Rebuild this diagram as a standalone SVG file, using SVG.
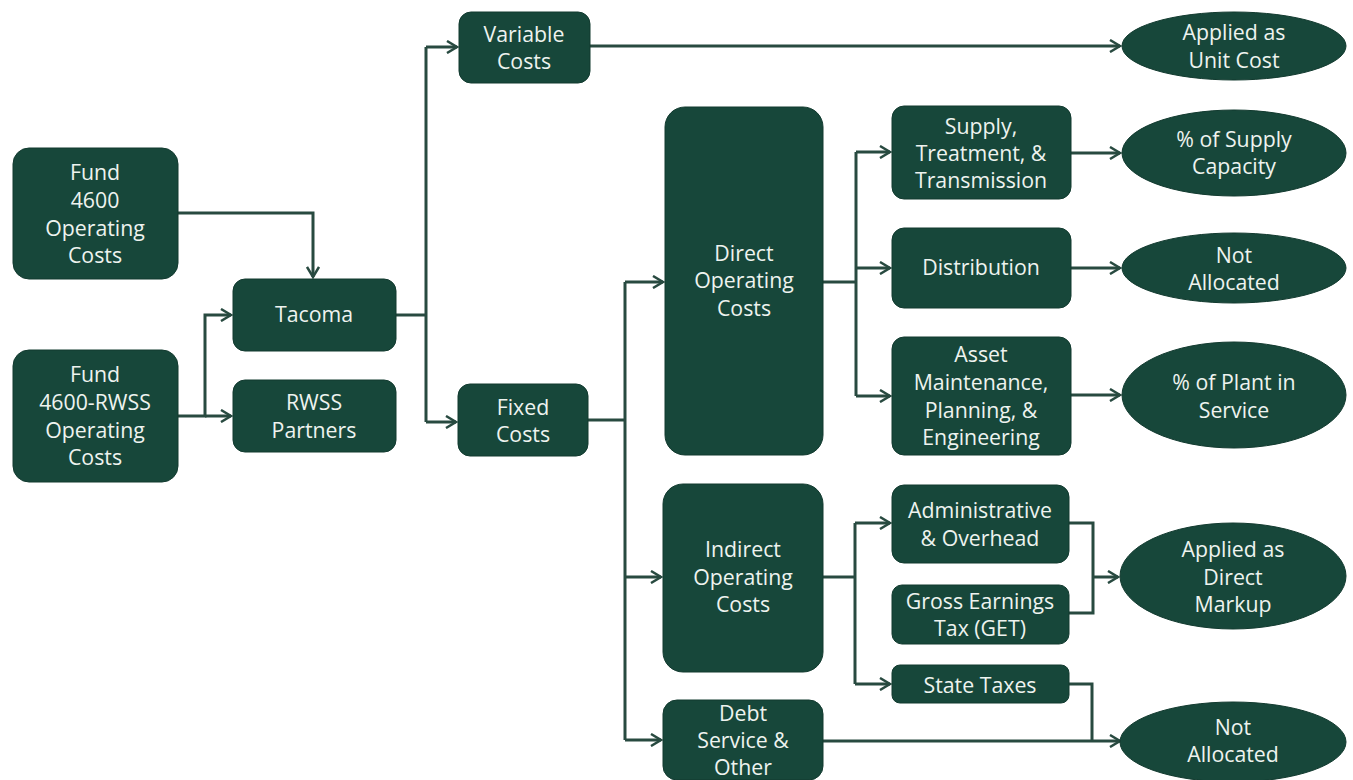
<svg xmlns="http://www.w3.org/2000/svg" width="1353" height="780" viewBox="0 0 1353 780">
<defs>
<style>
.n{fill:#17473a;stroke:#123a2f;stroke-width:1}
.t{font-family:"Open Sans","Noto Sans","Liberation Sans",sans-serif;font-size:21.3px;fill:#eef3ef;text-anchor:middle}
.c{fill:none;stroke:#284a40;stroke-width:3}
</style>
<marker id="ah" viewBox="0 0 14 14" refX="12" refY="7" markerWidth="14" markerHeight="14" markerUnits="userSpaceOnUse" orient="auto">
<path d="M2,1 L12,7 L2,13" fill="none" stroke="#284a40" stroke-width="2.5"/>
</marker>
</defs>
<rect width="1353" height="780" fill="#ffffff"/>
<g id="connectors">
<path class="c" d="M177,213 H313 V277" marker-end="url(#ah)"/>
<path class="c" d="M177,416 H205 V315 H231" marker-end="url(#ah)"/>
<path class="c" d="M205,416 H231" marker-end="url(#ah)"/>
<path class="c" d="M396,315 H426"/>
<path class="c" d="M426,47 V422"/>
<path class="c" d="M426,47 H457" marker-end="url(#ah)"/>
<path class="c" d="M426,422 H456" marker-end="url(#ah)"/>
<path class="c" d="M590,46 H1120" marker-end="url(#ah)"/>
<path class="c" d="M588,420 H625"/>
<path class="c" d="M625,282 V740"/>
<path class="c" d="M625,282 H663" marker-end="url(#ah)"/>
<path class="c" d="M625,577 H661" marker-end="url(#ah)"/>
<path class="c" d="M625,740 H661" marker-end="url(#ah)"/>
<path class="c" d="M823,282 H856"/>
<path class="c" d="M856,152 V396"/>
<path class="c" d="M856,152 H890" marker-end="url(#ah)"/>
<path class="c" d="M856,268 H890" marker-end="url(#ah)"/>
<path class="c" d="M856,396 H890" marker-end="url(#ah)"/>
<path class="c" d="M1071,153 H1120" marker-end="url(#ah)"/>
<path class="c" d="M1071,268 H1120" marker-end="url(#ah)"/>
<path class="c" d="M1071,395 H1120" marker-end="url(#ah)"/>
<path class="c" d="M823,577 H855"/>
<path class="c" d="M855,523 V684"/>
<path class="c" d="M855,523 H890" marker-end="url(#ah)"/>
<path class="c" d="M855,684 H890" marker-end="url(#ah)"/>
<path class="c" d="M1069,523 H1093 V613 H1069"/>
<path class="c" d="M1093,577 H1118" marker-end="url(#ah)"/>
<path class="c" d="M1069,684 H1092 V741"/>
<path class="c" d="M823,741 H1120" marker-end="url(#ah)"/>
</g>
<g id="fund4600">
<rect class="n" x="13" y="148" width="165" height="131" rx="16"/>
<text class="t" x="95" y="180">Fund</text>
<text class="t" x="95" y="208">4600</text>
<text class="t" x="95" y="236">Operating</text>
<text class="t" x="95" y="263">Costs</text>
</g>
<g id="fund4600rwss">
<rect class="n" x="13" y="350" width="165" height="132" rx="16"/>
<text class="t" x="95" y="382">Fund</text>
<text class="t" x="95" y="410">4600-RWSS</text>
<text class="t" x="95" y="438">Operating</text>
<text class="t" x="95" y="465">Costs</text>
</g>
<g id="tacoma">
<rect class="n" x="233" y="279" width="163" height="72" rx="12"/>
<text class="t" x="314" y="322">Tacoma</text>
</g>
<g id="rwsspartners">
<rect class="n" x="233" y="380" width="163" height="72" rx="12"/>
<text class="t" x="314" y="410">RWSS</text>
<text class="t" x="314" y="438">Partners</text>
</g>
<g id="variablecosts">
<rect class="n" x="459" y="12" width="131" height="71" rx="12"/>
<text class="t" x="524" y="42">Variable</text>
<text class="t" x="524" y="69">Costs</text>
</g>
<g id="fixedcosts">
<rect class="n" x="458" y="384" width="130" height="72" rx="12"/>
<text class="t" x="523" y="415">Fixed</text>
<text class="t" x="523" y="442">Costs</text>
</g>
<g id="directoperating">
<rect class="n" x="665" y="107" width="158" height="348" rx="20"/>
<text class="t" x="744" y="261">Direct</text>
<text class="t" x="744" y="288">Operating</text>
<text class="t" x="744" y="316">Costs</text>
</g>
<g id="indirectoperating">
<rect class="n" x="663" y="484" width="160" height="188" rx="20"/>
<text class="t" x="743" y="557">Indirect</text>
<text class="t" x="743" y="585">Operating</text>
<text class="t" x="743" y="612">Costs</text>
</g>
<g id="debtservice">
<rect class="n" x="663" y="700" width="160" height="80" rx="14"/>
<text class="t" x="743" y="721">Debt</text>
<text class="t" x="743" y="748">Service &amp;</text>
<text class="t" x="743" y="775">Other</text>
</g>
<g id="supply">
<rect class="n" x="892" y="106" width="179" height="93" rx="12"/>
<text class="t" x="981" y="134">Supply,</text>
<text class="t" x="981" y="161">Treatment, &amp;</text>
<text class="t" x="981" y="188">Transmission</text>
</g>
<g id="distribution">
<rect class="n" x="892" y="228" width="179" height="80" rx="12"/>
<text class="t" x="981" y="275">Distribution</text>
</g>
<g id="asset">
<rect class="n" x="892" y="337" width="179" height="118" rx="12"/>
<text class="t" x="981" y="362">Asset</text>
<text class="t" x="981" y="390">Maintenance,</text>
<text class="t" x="981" y="418">Planning, &amp;</text>
<text class="t" x="981" y="445">Engineering</text>
</g>
<g id="admin">
<rect class="n" x="892" y="485" width="177" height="78" rx="12"/>
<text class="t" x="980" y="518">Administrative</text>
<text class="t" x="980" y="546">&amp; Overhead</text>
</g>
<g id="get">
<rect class="n" x="892" y="585" width="177" height="59" rx="10"/>
<text class="t" x="980" y="609">Gross Earnings</text>
<text class="t" x="980" y="636">Tax (GET)</text>
</g>
<g id="statetaxes">
<rect class="n" x="892" y="665" width="177" height="38" rx="8"/>
<text class="t" x="980" y="693">State Taxes</text>
</g>
<g id="unitcost">
<ellipse class="n" cx="1234" cy="46" rx="112" ry="34"/>
<text class="t" x="1234" y="40">Applied as</text>
<text class="t" x="1234" y="68">Unit Cost</text>
</g>
<g id="supplycapacity">
<ellipse class="n" cx="1234" cy="153" rx="112" ry="43"/>
<text class="t" x="1234" y="147">% of Supply</text>
<text class="t" x="1234" y="174">Capacity</text>
</g>
<g id="notallocated1">
<ellipse class="n" cx="1234" cy="268" rx="112" ry="35"/>
<text class="t" x="1234" y="263">Not</text>
<text class="t" x="1234" y="290">Allocated</text>
</g>
<g id="plantinservice">
<ellipse class="n" cx="1234" cy="395" rx="112" ry="53"/>
<text class="t" x="1234" y="390">% of Plant in</text>
<text class="t" x="1234" y="418">Service</text>
</g>
<g id="directmarkup">
<ellipse class="n" cx="1233" cy="576" rx="113" ry="53"/>
<text class="t" x="1233" y="557">Applied as</text>
<text class="t" x="1233" y="585">Direct</text>
<text class="t" x="1233" y="612">Markup</text>
</g>
<g id="notallocated2">
<ellipse class="n" cx="1233" cy="742" rx="113" ry="40"/>
<text class="t" x="1233" y="735">Not</text>
<text class="t" x="1233" y="762">Allocated</text>
</g>
</svg>
